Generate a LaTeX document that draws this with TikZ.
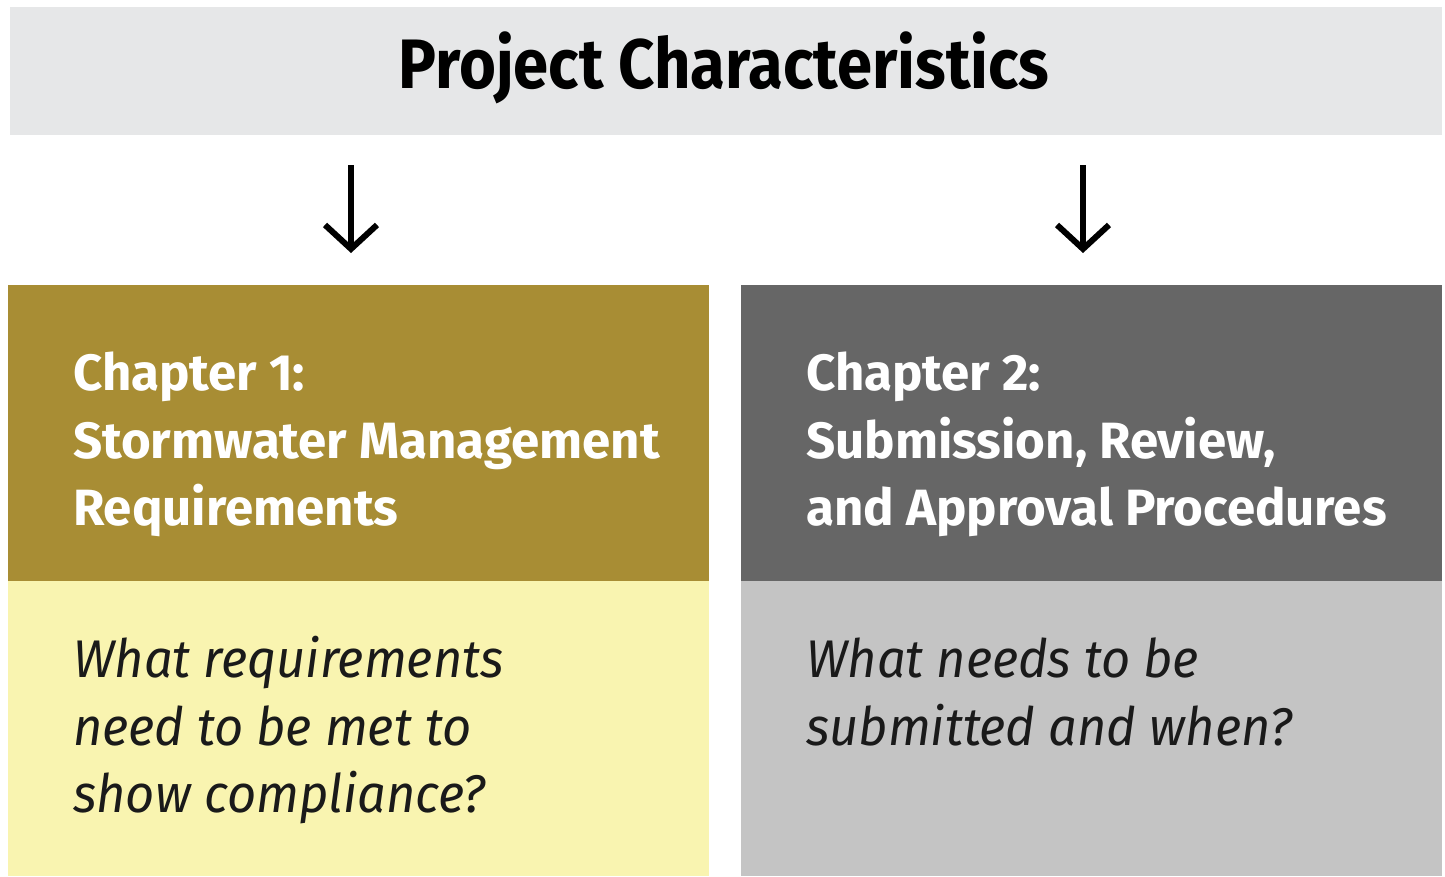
\documentclass[tikz,border=0pt]{standalone}
\usepackage{fontspec}
\setmainfont{Fira Sans}
\newfontfamily\titlefont[FakeStretch=0.905]{Fira Sans}
\newfontfamily\bodyfont[FakeStretch=0.955]{Fira Sans}
\usetikzlibrary{arrows.meta}
\definecolor{topgray}{HTML}{E6E7E8}
\definecolor{gold}{HTML}{A88D34}
\definecolor{darkgray}{HTML}{666666}
\definecolor{lightyellow}{HTML}{F9F4B0}
\definecolor{lightgray}{HTML}{C4C4C4}
\definecolor{ink}{HTML}{1A1A1A}
\tikzset{
  panel/.style={draw=none, inner sep=0pt, outer sep=0pt, anchor=north west},
  headtext/.style={anchor=base west, inner sep=0pt, text=white, font=\fontsize{51}{67}\selectfont\bfseries},
  bodytext/.style={anchor=base west, inner sep=0pt, text=ink, font=\bodyfont\fontsize{53}{67}\selectfont\itshape},
  titletext/.style={anchor=base, inner sep=0pt, text=black, font=\titlefont\fontsize{70}{80}\selectfont\bfseries},
  downarrow/.style={line width=6pt, -{Straight Barb[length=24pt,width=52pt,line width=6pt]}, shorten <=30pt, shorten >=32pt}
}
\begin{document}
\begin{tikzpicture}[x=1pt,y=-1pt]
\useasboundingbox (0,0) rectangle (1445,876);
% panels
\node[panel, fill=topgray, minimum width=1432pt, minimum height=128pt] (title) at (10,7) {};
\node[panel, fill=gold, minimum width=701pt, minimum height=296pt] (ch1) at (8,285) {};
\node[panel, fill=lightyellow, minimum width=701pt, minimum height=295pt] (q1) at (8,581) {};
\node[panel, fill=darkgray, minimum width=701pt, minimum height=296pt] (ch2) at (741,285) {};
\node[panel, fill=lightgray, minimum width=701pt, minimum height=295pt] (q2) at (741,581) {};
% title
\node[titletext] (titlelabel) at (724,88) {Project Characteristics};
% arrows
\coordinate (a1) at (351,0);
\coordinate (a2) at (1083,0);
\draw[downarrow] (title.south -| a1) -- (ch1.north -| a1);
\draw[downarrow] (title.south -| a2) -- (ch2.north -| a2);
% chapter 1
\node[headtext] (c1l1) at (73,390) {Chapter 1:};
\node[headtext] (c1l2) at (73,458) {Stormwater Management};
\node[headtext] (c1l3) at (73,525) {Requirements};
\node[bodytext] (q1l1) at (73,677) {What requirements};
\node[bodytext] (q1l2) at (73,745) {need to be met to};
\node[bodytext] (q1l3) at (73,812) {show compliance?};
% chapter 2
\node[headtext] (c2l1) at (806,390) {Chapter 2:};
\node[headtext] (c2l2) at (806,458) {Submission, Review,};
\node[headtext] (c2l3) at (806,525) {and Approval Procedures};
\node[bodytext] (q2l1) at (806,677) {What needs to be};
\node[bodytext] (q2l2) at (806,745) {submitted and when?};
\end{tikzpicture}
\end{document}
